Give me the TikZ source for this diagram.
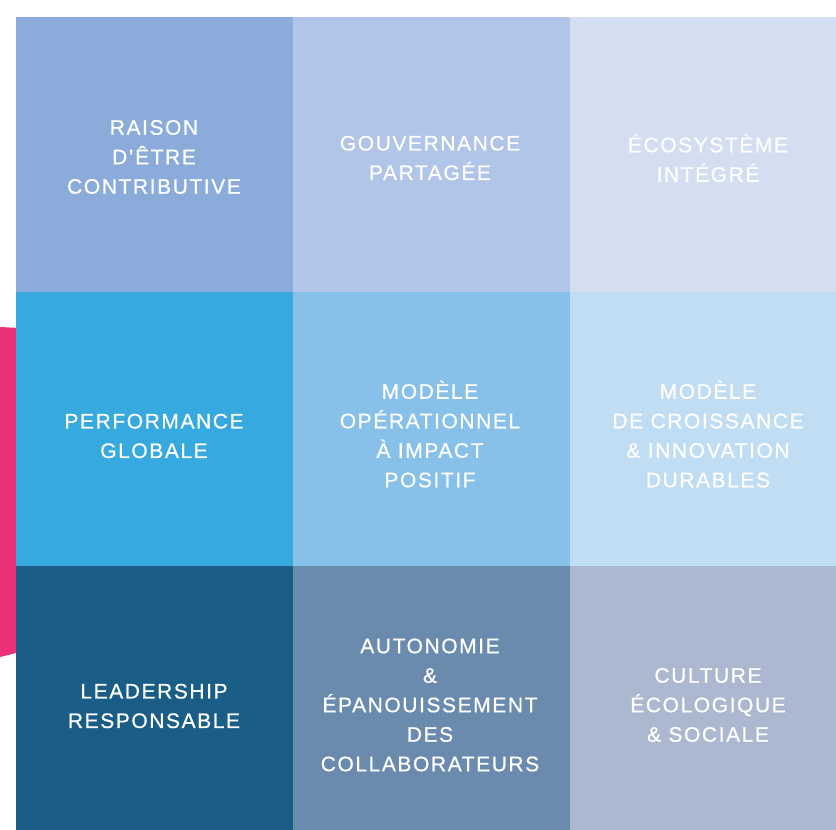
\documentclass[tikz,border=0pt]{standalone}
\usepackage{fontspec}
\setmainfont{Liberation Sans}
\newfontfamily\gridfont[LetterSpace=7.5,FakeBold=0.6]{Liberation Sans}
\usepackage{tikz}
\usetikzlibrary{positioning}
\definecolor{pinkarc}{HTML}{EC3178}
\definecolor{raison}{HTML}{8BACDA}
\definecolor{gouv}{HTML}{B0C5E7}
\definecolor{ecosys}{HTML}{D3DEF1}
\definecolor{perf}{HTML}{36A9DF}
\definecolor{modop}{HTML}{87C0E9}
\definecolor{croiss}{HTML}{C0DDF3}
\definecolor{leader}{HTML}{1A5E87}
\definecolor{autonom}{HTML}{6A8BAD}
\definecolor{culture}{HTML}{ABB8CF}
\tikzstyle{label}=[text=white, align=center, font=\gridfont\fontsize{21}{29.5}\selectfont]
\begin{document}
\begin{tikzpicture}[x=1pt,y=-1pt]
\useasboundingbox (0,0) rectangle (836,830);
% pink arc behind the grid
\fill[pinkarc] (0,327) -- (20,328) -- (20,652) -- (0,657) -- cycle;
% the nine cells
\foreach \c/\r/\col in {0/0/raison,1/0/gouv,2/0/ecosys,0/1/perf,1/1/modop,2/1/croiss,0/2/leader,1/2/autonom,2/2/culture} {
	\fill[\col] (16+277*\c,17+274.5*\r) rectangle (16+277*\c+277.5,17+274.5*\r+275);
}
\node[label] (raison) at (154,157) {RAISON\\D’ÊTRE\\CONTRIBUTIVE};
\node[label] (gouv) at (430,158) {GOUVERNANCE\\PARTAGÉE};
\node[label] (ecosys) at (708,158) {ÉCOSYSTÈME\\INTÉGRÉ};
\node[label] (perf) at (154,436) {PERFORMANCE\\GLOBALE};
\node[label] (modop) at (430,434) {MODÈLE\\OPÉRATIONNEL\\À IMPACT\\POSITIF};
\node[label] (croiss) at (708,434) {MODÈLE\\DE CROISSANCE\\\& INNOVATION\\DURABLES};
\node[label] (leader) at (154,706) {LEADERSHIP\\RESPONSABLE};
\node[label] (autonom) at (430,705) {AUTONOMIE\\\&\\ÉPANOUISSEMENT\\DES\\COLLABORATEURS};
\node[label] (culture) at (708,705) {CULTURE\\ÉCOLOGIQUE\\\& SOCIALE};
\end{tikzpicture}
\end{document}
